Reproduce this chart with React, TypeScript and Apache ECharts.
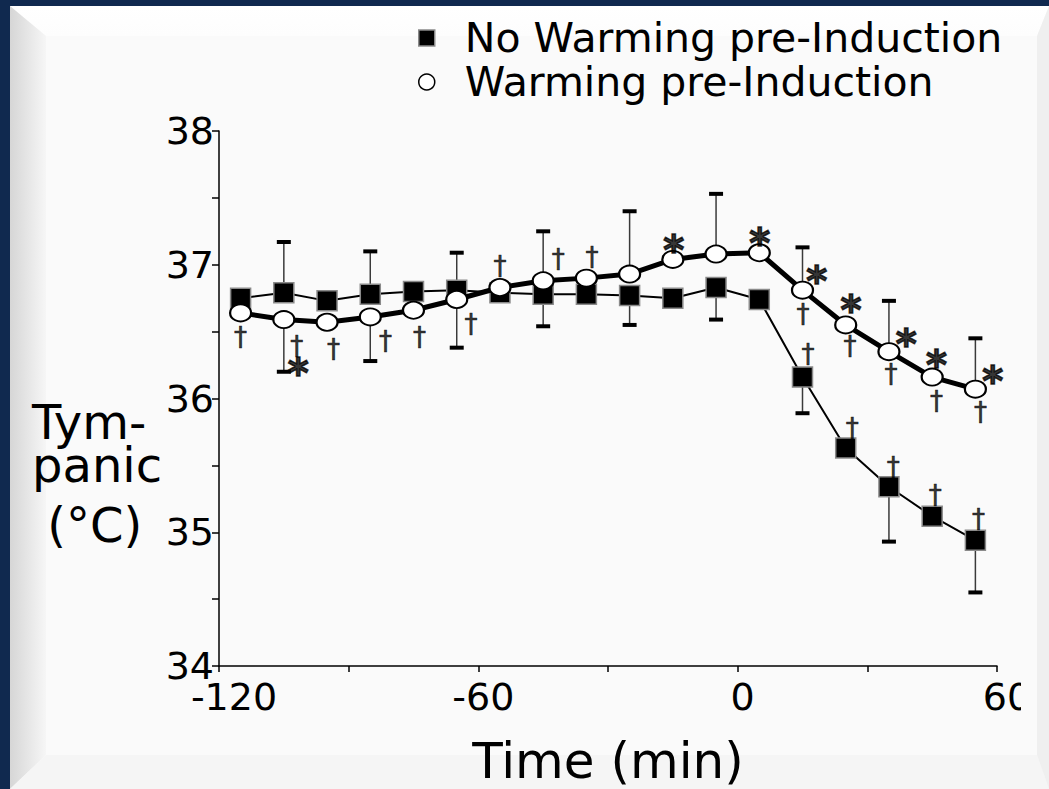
import React, { useEffect, useRef } from "react";
import * as echarts from "echarts";

// ---- data ----
const times = [-115, -105, -95, -85, -75, -65, -55, -45, -35, -25, -15, -5, 5, 15, 25, 35, 45, 55];
const noWarming = [36.75, 36.79, 36.73, 36.78, 36.8, 36.81, 36.79, 36.78, 36.78, 36.77, 36.75, 36.83, 36.74, 36.16, 35.63, 35.34, 35.12, 34.94];
const warming = [36.64, 36.59, 36.57, 36.61, 36.66, 36.74, 36.83, 36.88, 36.9, 36.93, 37.04, 37.08, 37.09, 36.81, 36.55, 36.35, 36.16, 36.07];
// end of the one-sided error bars (null = no bar drawn)
const noWarmingErrEnd = [null, 37.17, null, 37.1, null, 37.09, null, 36.54, null, 36.55, null, 36.59, null, 35.89, null, 34.93, null, 34.55];
const warmingErrEnd = [null, 36.2, null, 36.28, null, 36.38, null, 37.25, null, 37.4, null, 37.53, null, 37.13, null, 36.73, null, 36.45];
// significance marks [time, value]
const daggers = [
  [-115, 36.46], [-102, 36.39], [-93.5, 36.37], [-81.5, 36.43], [-73.6, 36.46], [-61.7, 36.56],
  [-55, 36.99], [-41.5, 37.04], [-33.7, 37.06],
  [15.1, 36.63], [26, 36.39], [35.5, 36.18], [46, 35.98], [56.2, 35.9],
  [16.3, 36.33], [26.5, 35.78], [36, 35.49], [45.7, 35.28], [55.7, 35.1],
];
const asterisks = [
  [-101.7, 36.25], [-14.8, 37.17], [5.1, 37.22], [18.3, 36.94], [26.2, 36.72], [39, 36.47], [46, 36.31], [59, 36.19],
];
const seriesNames = ["No Warming pre-Induction", "Warming pre-Induction"];
const xTicks = { min: -120, max: 60, step: 30, labelEvery: 60 };
const yTicks = { min: 34, max: 38, step: 0.5 };

const FONT = "DejaVu Sans";

function errData(vals: number[], ends: (number | null)[]) {
  const out: number[][] = [];
  ends.forEach((e, i) => {
    if (e !== null) out.push([times[i], vals[i], e]);
  });
  return out;
}

function errRender(params: any, api: any) {
  const t = api.value(0);
  const p0 = api.coord([t, api.value(1)]);
  const p1 = api.coord([t, api.value(2)]);
  return {
    type: "group",
    children: [
      { type: "line", shape: { x1: p0[0], y1: p0[1], x2: p1[0], y2: p1[1] }, style: { stroke: "#3a3a3a", lineWidth: 1.5 } },
      { type: "line", shape: { x1: p1[0] - 7, y1: p1[1], x2: p1[0] + 7, y2: p1[1] }, style: { stroke: "#000", lineWidth: 4 } },
    ],
  };
}

export default function App() {
  const ref = useRef<HTMLDivElement>(null);
  useEffect(() => {
    if (!ref.current) return;
    const chart = echarts.init(ref.current, undefined, { renderer: "svg" });
    chart.setOption({
      animation: false,
      backgroundColor: "transparent",
      grid: { left: 219, width: 778, top: 131, height: 535, containLabel: false, outerBoundsMode: "none" },
      legend: {
        orient: "vertical",
        left: 413,
        top: 12,
        itemWidth: 16,
        itemHeight: 16,
        itemGap: 2,
        textStyle: { fontFamily: FONT, fontSize: 41, color: "#000", lineHeight: 42, padding: [0, 0, 0, 25] },
        data: [
          { name: seriesNames[0], icon: "rect", itemStyle: { color: "#000", borderColor: "#8a8a8a", borderWidth: 1.5 } },
          { name: seriesNames[1], icon: "circle", itemStyle: { color: "#fff", borderColor: "#000", borderWidth: 1.5 } },
        ],
      },
      xAxis: {
        type: "value",
        min: xTicks.min,
        max: xTicks.max,
        interval: xTicks.step,
        name: "Time (min)",
        nameLocation: "middle",
        nameGap: 70,
        nameTextStyle: { fontFamily: FONT, fontSize: 50, color: "#000" },
        axisLine: { onZero: false, lineStyle: { color: "#000", width: 1.5 } },
        axisTick: { length: 6, lineStyle: { color: "#000", width: 1.5 } },
        axisLabel: {
          fontFamily: FONT,
          fontSize: 38,
          color: "#000",
          margin: 12,
          formatter: (v: number) => {
            if (v % xTicks.labelEvery !== 0) return "";
            const key = v === xTicks.min ? "f" : v === xTicks.max ? "m" : "n";
            return "{" + key + "|" + v + "}";
          },
          rich: {
            f: { fontFamily: FONT, fontSize: 38, color: "#000", padding: [0, 0, 0, 30] },
            m: { fontFamily: FONT, fontSize: 38, color: "#000", padding: [0, 0, 0, 20] },
            n: { fontFamily: FONT, fontSize: 38, color: "#000", padding: [0, 0, 0, 10] },
          },
        },
        splitLine: { show: false },
      },
      yAxis: {
        type: "value",
        min: yTicks.min,
        max: yTicks.max,
        interval: yTicks.step,
        axisLine: { show: true, onZero: false, lineStyle: { color: "#000", width: 1.5 } },
        axisTick: { show: true, length: 7, lineStyle: { color: "#000", width: 1.5 } },
        axisLabel: {
          fontFamily: FONT,
          fontSize: 38,
          color: "#000",
          margin: 5,
          formatter: (v: number) => (Number.isInteger(v) ? String(v) : ""),
        },
        splitLine: { show: false },
      },
      graphic: [
        { type: "text", left: 32, top: 398, style: { text: "Tym-", fontFamily: FONT, fontSize: 48, fill: "#000" } },
        { type: "text", left: 32, top: 441, style: { text: "panic", fontFamily: FONT, fontSize: 48, fill: "#000" } },
        { type: "text", left: 32, top: 501, style: { text: " (°C)", fontFamily: FONT, fontSize: 48, fill: "#000" } },
      ],
      series: [
        { type: "custom", name: "errA", renderItem: errRender, data: errData(noWarming, noWarmingErrEnd), z: 1, silent: true },
        { type: "custom", name: "errB", renderItem: errRender, data: errData(warming, warmingErrEnd), z: 1, silent: true },
        {
          type: "line",
          name: seriesNames[0],
          data: times.map((t, i) => [t, noWarming[i]]),
          symbol: "rect",
          symbolSize: 20,
          itemStyle: { color: "#000", borderColor: "#8a8a8a", borderWidth: 1.5 },
          lineStyle: { color: "#000", width: 2 },
          z: 3,
        },
        {
          type: "line",
          name: seriesNames[1],
          data: times.map((t, i) => [t, warming[i]]),
          symbol: "circle",
          symbolSize: [21, 17],
          itemStyle: { color: "#fff", borderColor: "#000", borderWidth: 2 },
          lineStyle: { color: "#000", width: 5 },
          z: 4,
        },
        {
          type: "scatter",
          name: "dagger",
          data: daggers,
          symbolSize: 1,
          itemStyle: { color: "transparent" },
          label: { show: true, position: "inside", formatter: "†", fontFamily: FONT, fontSize: 26, color: "#000", textBorderColor: "#000", textBorderWidth: 0.6 },
          z: 5,
          silent: true,
        },
        {
          type: "scatter",
          name: "asterisk",
          data: asterisks,
          symbolSize: 1,
          itemStyle: { color: "transparent" },
          label: { show: true, position: "inside", formatter: "*", fontFamily: FONT, fontWeight: "bold", fontSize: 40, color: "#000", textBorderColor: "#000", textBorderWidth: 1.5, offset: [0, 8] },
          z: 5,
          silent: true,
        },
      ],
    });
    return () => chart.dispose();
  }, []);

  const abs = (s: React.CSSProperties): React.CSSProperties => ({ position: "absolute", ...s });
  return (
    <div style={{ position: "fixed", left: 0, top: 0, width: 1049, height: 789, background: "#10294f", overflow: "hidden" }}>
      <div style={abs({ left: 10, top: 6, right: 0, bottom: 0, background: "#fafafa" })} />
      <div style={abs({ left: 10, top: 6, width: 1039, height: 30, background: "linear-gradient(#ffffff, #fdfdfd)", clipPath: "polygon(0 0, 100% 0, calc(100% - 12px) 100%, 36px 100%)" })} />
      <div style={abs({ left: 10, top: 6, width: 36, height: 783, background: "linear-gradient(to right, #d6d6d6, #f6f6f6)", clipPath: "polygon(0 0, 100% 30px, 100% calc(100% - 34px), 0 100%)" })} />
      <div style={abs({ left: 10, bottom: 0, width: 1039, height: 34, background: "#f5f5f5", clipPath: "polygon(0 100%, 36px 0, calc(100% - 12px) 0, 100% 100%)" })} />
      <div style={abs({ right: 0, top: 6, width: 12, height: 783, background: "#efefef", clipPath: "polygon(0 30px, 100% 0, 100% 100%, 0 calc(100% - 34px))" })} />
      <div ref={ref} style={abs({ left: 0, top: 0, width: 1021, height: 789 })} />
    </div>
  );
}
